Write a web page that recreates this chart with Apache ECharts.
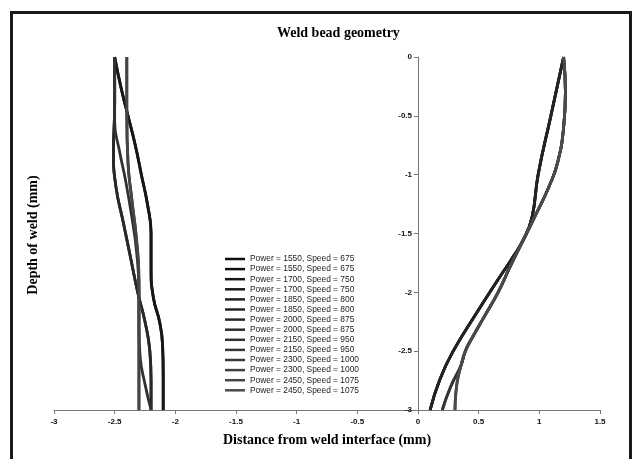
<!DOCTYPE html>
<html>
<head>
<meta charset="utf-8">
<script src="https://cdn.jsdelivr.net/npm/echarts@6/dist/echarts.min.js"></script>
<style>html,body{margin:0;padding:0;background:#fff}#c{width:638px;height:459px}</style>
</head>
<body>
<div id="c"></div>
<script>
// ---- data ----
var powers = [1550, 1700, 1850, 2000, 2150, 2300, 2450];
var speeds = [675, 750, 800, 875, 950, 1000, 1075];
var xTicks = [-3, -2.5, -2, -1.5, -1, -0.5, 0, 0.5, 1, 1.5];
var yTicks = [0, -0.5, -1, -1.5, -2, -2.5, -3];

// left boundary curves (distance, depth)
var leftD_x = [-2.5, -2.45, -2.39, -2.33, -2.28, -2.23, -2.2, -2.2, -2.18, -2.13, -2.105, -2.1, -2.1];
var leftD_y = [0, -0.25, -0.5, -0.75, -1.0, -1.25, -1.5, -1.8, -2.05, -2.25, -2.45, -2.7, -3];
var leftB_x = [-2.5, -2.5, -2.51, -2.49, -2.43, -2.37, -2.31, -2.25, -2.21, -2.2, -2.2];
var leftB_y = [0, -0.4, -0.8, -1.1, -1.4, -1.7, -2.0, -2.25, -2.5, -2.75, -3];
var leftC_x = [-2.5, -2.5, -2.5, -2.46, -2.41, -2.36, -2.32, -2.3, -2.3, -2.29, -2.25, -2.2];
var leftC_y = [0, -0.3, -0.55, -0.8, -1.05, -1.35, -1.65, -2.0, -2.3, -2.55, -2.78, -3];
var leftE_x = [-2.4, -2.4, -2.39, -2.36, -2.32, -2.3, -2.3, -2.3];
var leftE_y = [0, -0.5, -0.9, -1.2, -1.55, -1.9, -2.4, -3];

// right boundary curves
var rightA_x = [1.2, 1.095, 0.99, 0.94, 0.87, 0.77, 0.66, 0.48, 0.29, 0.18, 0.1];
var rightA_y = [0, -0.5, -1.0, -1.36, -1.55, -1.72, -1.89, -2.18, -2.5, -2.74, -3];
var rightB_x = [1.2, 1.215, 1.2, 1.15, 1.08, 0.99, 0.87, 0.76, 0.66, 0.55, 0.45, 0.39, 0.355, 0.27, 0.2];
var rightB_y = [0, -0.3, -0.6, -0.9, -1.1, -1.3, -1.55, -1.78, -2.0, -2.2, -2.38, -2.5, -2.62, -2.8, -3];
var rightC_x = [1.2, 1.215, 1.2, 1.15, 1.08, 0.99, 0.87, 0.76, 0.66, 0.55, 0.45, 0.39, 0.355, 0.325, 0.31, 0.305];
var rightC_y = [0, -0.3, -0.6, -0.9, -1.1, -1.3, -1.55, -1.78, -2.0, -2.2, -2.38, -2.5, -2.62, -2.75, -2.88, -3];

var colors = ['#0d0d0d', '#111111', '#161616', '#1a1a1a', '#1f1f1f', '#232323', '#282828',
              '#2c2c2c', '#313131', '#353535', '#3a3a3a', '#3f3f3f', '#454545', '#4a4a4a'];

// which curve belongs to each parameter set
var leftOf = [[leftD_x, leftD_y], [leftD_x, leftD_y], [leftB_x, leftB_y], [leftB_x, leftB_y],
              [leftC_x, leftC_y], [leftE_x, leftE_y], [leftE_x, leftE_y]];
var rightOf = [[rightA_x, rightA_y], [rightA_x, rightA_y], [rightA_x, rightA_y], [rightB_x, rightB_y],
               [rightB_x, rightB_y], [rightC_x, rightC_y], [rightC_x, rightC_y]];

function pairs(xs, ys) { return xs.map(function (x, i) { return [x, ys[i]]; }); }

var series = [];
var legendNames = [];
for (var k = 0; k < powers.length; k++) {
  var base = 'Power = ' + powers[k] + ', Speed = ' + speeds[k];
  var names = [base, base + ' '];
  var curves = [leftOf[k], rightOf[k]];
  for (var j = 0; j < 2; j++) {
    var idx = k * 2 + j;
    legendNames.push(names[j]);
    series.push({
      name: names[j],
      type: 'line',
      data: pairs(curves[j][0], curves[j][1]),
      smooth: 0.5,
      showSymbol: false,
      symbol: 'none',
      lineStyle: { width: 2.8, color: colors[idx] },
      itemStyle: { color: colors[idx] },
      z: 2 + idx
    });
  }
}

var xMin = xTicks[0], xMax = xTicks[xTicks.length - 1];
var gridLeft = 54, gridRight = 38, chartW = 638;
var plotW = chartW - gridLeft - gridRight;
var yAxisOffset = -plotW * (0 - xMin) / (xMax - xMin);

var chart = echarts.init(document.getElementById('c'), null, { renderer: 'canvas' });
var labelFont = { fontFamily: "'Liberation Sans', Arial, sans-serif", fontWeight: 'bold', fontSize: 8, color: '#111' };
chart.setOption({
  animation: false,
  backgroundColor: '#fff',
  title: {
    text: 'Weld bead geometry',
    left: 272, top: 21,
    textStyle: { fontFamily: "'Liberation Serif', 'Times New Roman', serif", fontWeight: 'bold', fontSize: 14, color: '#000' }
  },
  grid: { left: gridLeft, right: gridRight, top: 57, bottom: 49 },
  legend: {
    data: legendNames,
    orient: 'vertical',
    left: 220, top: 249,
    icon: 'rect',
    itemWidth: 20, itemHeight: 2.5, itemGap: 0.1,
    textStyle: { fontFamily: "'Liberation Sans', Arial, sans-serif", fontSize: 8.4, lineHeight: 10, color: '#222' },
    selectedMode: false
  },
  xAxis: {
    type: 'value', min: xMin, max: xMax, interval: 0.5,
    name: 'Distance from weld interface (mm)',
    nameLocation: 'middle', nameGap: 23,
    nameTextStyle: { fontFamily: "'Liberation Serif', 'Times New Roman', serif", fontWeight: 'bold', fontSize: 14, color: '#000' },
    axisLine: { onZero: false, lineStyle: { color: '#777', width: 1 } },
    axisTick: { show: true, length: 4, inside: false, lineStyle: { color: '#777' } },
    axisLabel: Object.assign({ margin: 8, formatter: function (v) { return String(v); } }, labelFont),
    splitLine: { show: false }
  },
  yAxis: {
    type: 'value', min: -3, max: 0, interval: 0.5,
    offset: yAxisOffset,
    axisLine: { onZero: false, lineStyle: { color: '#777', width: 1 } },
    axisTick: { show: true, length: 4, inside: false, lineStyle: { color: '#777' } },
    axisLabel: Object.assign({ margin: 6, formatter: function (v) { return String(v); } }, labelFont),
    splitLine: { show: false }
  },
  graphic: [
    {
      type: 'rect', silent: true, z: 100,
      shape: { x: 11.5, y: 12.5, width: 619, height: 470 },
      style: { fill: 'none', stroke: '#1a1a1a', lineWidth: 3 }
    },
    {
      type: 'text', silent: true,
      x: 33, y: 235, rotation: Math.PI / 2,
      style: {
        text: 'Depth of weld (mm)',
        font: "bold 14px 'Liberation Serif', 'Times New Roman', serif",
        fill: '#000', align: 'center', verticalAlign: 'middle'
      }
    }
  ],
  series: series
});
</script>
</body>
</html>
